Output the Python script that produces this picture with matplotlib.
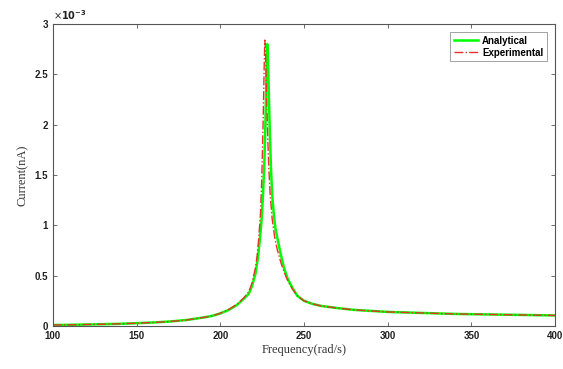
import matplotlib
matplotlib.use("Agg")
import matplotlib.pyplot as plt
import matplotlib.ticker as mticker
import numpy as np

# Frequency (rad/s) and current (x1e-3 nA)
freq_analytical = [100, 110, 120, 130, 140, 150, 160, 170, 180, 190, 195, 200, 205, 210,
                   214, 217, 219, 221, 222.5, 223.5, 224.5, 225.5, 226.3, 227, 227.6, 228,
                   228.4, 229, 229.6, 230.3, 231, 232, 233, 234.5, 236, 238, 240, 243, 246,
                   250, 255, 260, 270, 280, 290, 300, 320, 340, 360, 380, 400]
current_analytical_e3 = [0.01, 0.012, 0.015, 0.018, 0.022, 0.028, 0.035, 0.045, 0.06, 0.085,
                         0.10, 0.125, 0.16, 0.21, 0.27, 0.32, 0.40, 0.52, 0.68, 0.84, 1.02,
                         1.3, 1.62, 2.05, 2.55, 2.80, 2.70, 2.30, 1.90, 1.55, 1.30, 1.10, 0.96,
                         0.84, 0.72, 0.58, 0.48, 0.38, 0.30, 0.25, 0.22, 0.20, 0.178, 0.16,
                         0.15, 0.14, 0.13, 0.12, 0.115, 0.11, 0.105]

freq_experimental = [100, 110, 120, 130, 140, 150, 160, 170, 180, 190, 195, 200, 205, 210,
                     214, 217, 219, 221, 222, 223, 224, 224.8, 225.6, 226.2, 226.6, 227,
                     227.6, 228.3, 229, 229.8, 231, 232.5, 234, 236, 238, 240, 243, 246,
                     250, 255, 260, 270, 280, 290, 300, 320, 340, 360, 380, 400]
current_experimental_e3 = [0.01, 0.012, 0.015, 0.018, 0.022, 0.028, 0.035, 0.045, 0.06, 0.085,
                           0.10, 0.127, 0.165, 0.215, 0.28, 0.34, 0.43, 0.58, 0.70, 0.88,
                           1.12, 1.48, 2.05, 2.58, 2.84, 2.72, 2.32, 1.88, 1.55, 1.30, 1.06,
                           0.88, 0.76, 0.64, 0.54, 0.46, 0.37, 0.30, 0.25, 0.22, 0.20, 0.178,
                           0.16, 0.15, 0.14, 0.13, 0.12, 0.115, 0.11, 0.105]

scale = 1e-3
xticks = [100, 150, 200, 250, 300, 350, 400]
yticks_e3 = [0, 0.5, 1, 1.5, 2, 2.5, 3]


class GFormatter(mticker.ScalarFormatter):
    def _set_format(self):
        self.format = "%g"


fig = plt.figure(figsize=(5.63, 3.69), dpi=100)
ax = fig.add_axes([0.094, 0.1165, 0.892, 0.8185])

ax.plot(freq_analytical, np.array(current_analytical_e3) * scale, color="#00ff00",
        lw=1.8, label="Analytical")
ax.plot(freq_experimental, np.array(current_experimental_e3) * scale, color="#e8302a",
        lw=1.0, ls="-.", label="Experimental")

ax.set_xlim(100, 400)
ax.set_ylim(0, 3e-3)
ax.set_xticks(xticks)
ax.set_yticks(np.array(yticks_e3) * scale)
fmt = GFormatter(useMathText=True)
fmt.set_powerlimits((-3, -3))
ax.yaxis.set_major_formatter(fmt)

for s in ax.spines.values():
    s.set_color("#555555")
    s.set_linewidth(0.8)
ax.tick_params(direction="in", top=True, right=True, length=3, width=0.6,
               colors="#555555", labelcolor="#222222", labelsize=7)
for lab in ax.get_xticklabels() + ax.get_yticklabels():
    lab.set_fontweight("bold")
    lab.set_fontfamily("Liberation Sans")
off = ax.yaxis.get_offset_text()
off.set_fontsize(7)
off.set_fontweight("bold")

ax.set_xlabel("Frequency(rad/s)", family="Liberation Serif", fontsize=9, color="#333333",
              labelpad=2)
ax.set_ylabel("Current(nA)", family="Liberation Serif", fontsize=9, color="#333333",
              labelpad=4)

leg = ax.legend(loc="upper right", fontsize=7, frameon=True, fancybox=False,
                edgecolor="#777777", borderpad=0.4, handlelength=2.5, handletextpad=0.4,
                labelspacing=0.2, borderaxespad=0.8,
                prop={"family": "Liberation Sans", "weight": "bold", "size": 7})
leg.get_frame().set_linewidth(0.6)

fig.savefig("out.png", dpi=100)
